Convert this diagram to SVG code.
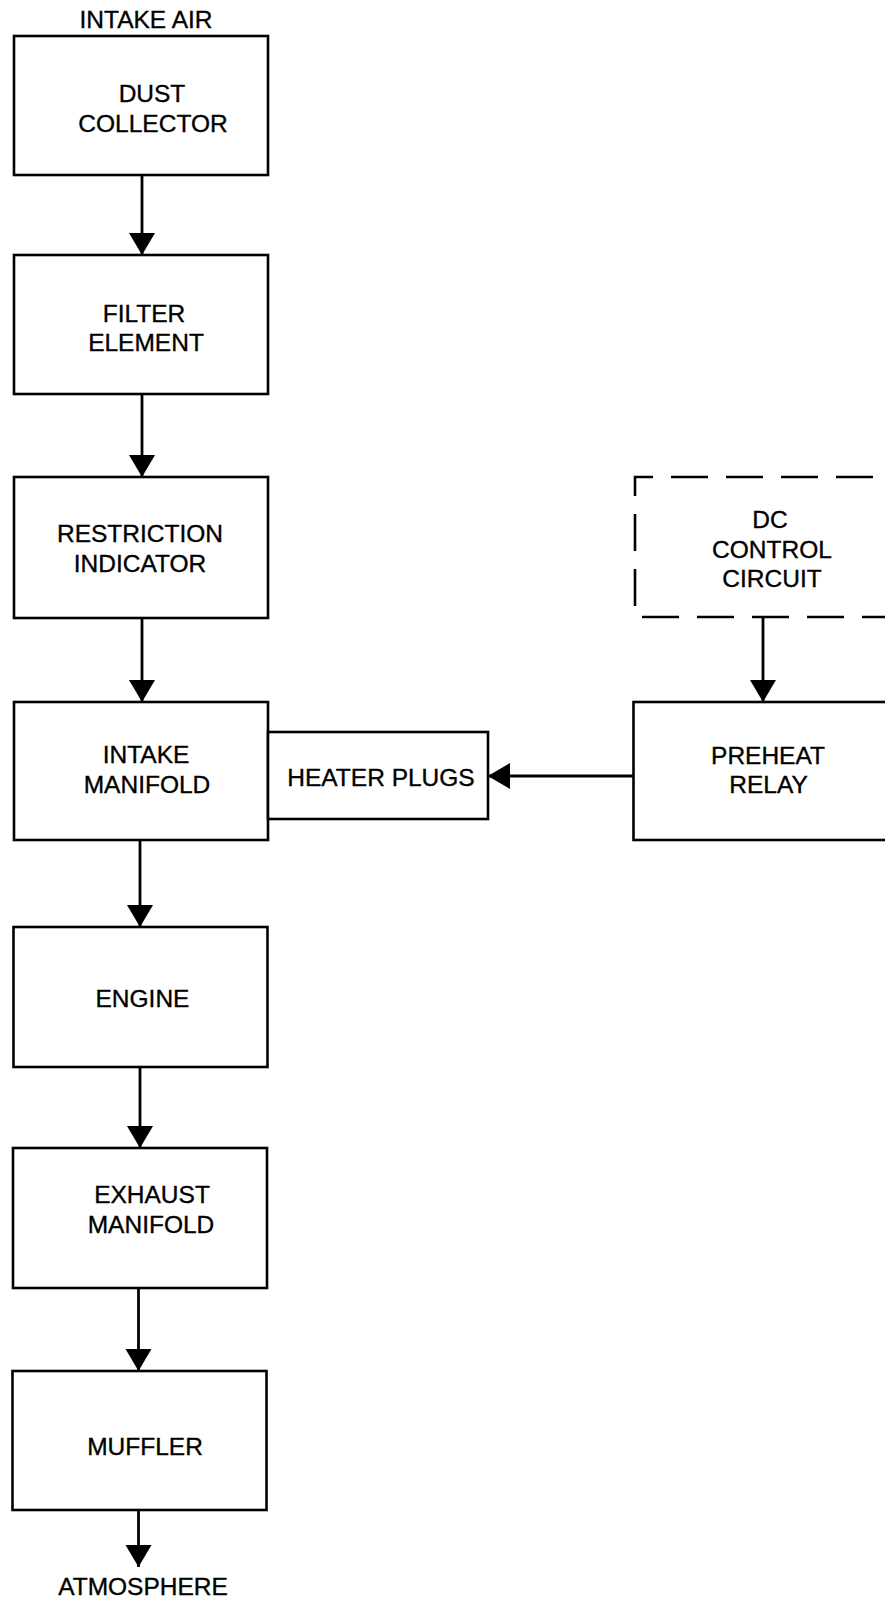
<svg xmlns="http://www.w3.org/2000/svg" width="885" height="1601" viewBox="0 0 885 1601">
<style>
  .box { fill: #ffffff; stroke: #000000; stroke-width: 2.6; }
  .dash { fill: #ffffff; stroke: #000000; stroke-width: 2.6; stroke-dasharray: 37 18; stroke-dashoffset: 19; }
  .lbl { font-family: "Liberation Sans", Arial, sans-serif; font-size: 24.5px; fill: #000000; stroke: #000000; stroke-width: 0.35; text-anchor: middle; }
  .conn { fill: none; stroke: #000000; stroke-width: 2.8; marker-end: url(#arr); }
</style>
<defs>
  <marker id="arr" markerUnits="userSpaceOnUse" markerWidth="24" markerHeight="28" refX="22" refY="13" orient="auto" viewBox="0 0 24 28">
    <path d="M0,0 L22,13 L0,26 Z" fill="#000000"/>
  </marker>
</defs>
<rect width="885" height="1601" fill="#ffffff"/>
<text class="lbl" x="146" y="28">INTAKE AIR</text>
<text class="lbl" x="143" y="1595">ATMOSPHERE</text>

<g id="connectors">
  <path class="conn" d="M142,175 V255"/>
  <path class="conn" d="M142,394 V477"/>
  <path class="conn" d="M142,618 V702"/>
  <path class="conn" d="M140,840 V927"/>
  <path class="conn" d="M140,1067 V1148"/>
  <path class="conn" d="M138.5,1288 V1371"/>
  <path class="conn" d="M138.5,1510 V1567"/>
  <path class="conn" d="M763,617 V702"/>
  <path class="conn" d="M633,776 H488"/>
</g>

<g id="dust-collector">
  <rect class="box" x="14" y="36" width="254" height="139"/>
  <text class="lbl" x="152" y="102">DUST</text>
  <text class="lbl" x="153" y="132">COLLECTOR</text>
</g>
<g id="filter-element">
  <rect class="box" x="14" y="255" width="254" height="139"/>
  <text class="lbl" x="144" y="322">FILTER</text>
  <text class="lbl" x="146" y="351">ELEMENT</text>
</g>
<g id="restriction-indicator">
  <rect class="box" x="14" y="477" width="254" height="141"/>
  <text class="lbl" x="140" y="542">RESTRICTION</text>
  <text class="lbl" x="140" y="572">INDICATOR</text>
</g>
<g id="intake-manifold">
  <rect class="box" x="14" y="702" width="254" height="138"/>
  <text class="lbl" x="146" y="763">INTAKE</text>
  <text class="lbl" x="147" y="793">MANIFOLD</text>
</g>
<g id="heater-plugs">
  <rect class="box" x="268" y="732" width="220" height="87"/>
  <text class="lbl" x="381" y="786">HEATER PLUGS</text>
</g>
<g id="dc-control-circuit">
  <rect class="dash" x="635" y="477" width="300" height="140"/>
  <text class="lbl" x="770" y="528">DC</text>
  <text class="lbl" x="772" y="558">CONTROL</text>
  <text class="lbl" x="772" y="587">CIRCUIT</text>
</g>
<g id="preheat-relay">
  <rect class="box" x="633.5" y="702" width="300" height="138"/>
  <text class="lbl" x="768" y="764">PREHEAT</text>
  <text class="lbl" x="768.5" y="793">RELAY</text>
</g>
<g id="engine">
  <rect class="box" x="13.5" y="927" width="254" height="140"/>
  <text class="lbl" x="142.5" y="1007">ENGINE</text>
</g>
<g id="exhaust-manifold">
  <rect class="box" x="13" y="1148" width="254" height="140"/>
  <text class="lbl" x="152" y="1203">EXHAUST</text>
  <text class="lbl" x="151" y="1233">MANIFOLD</text>
</g>
<g id="muffler">
  <rect class="box" x="12.5" y="1371" width="254" height="139"/>
  <text class="lbl" x="145" y="1455">MUFFLER</text>
</g>
</svg>
